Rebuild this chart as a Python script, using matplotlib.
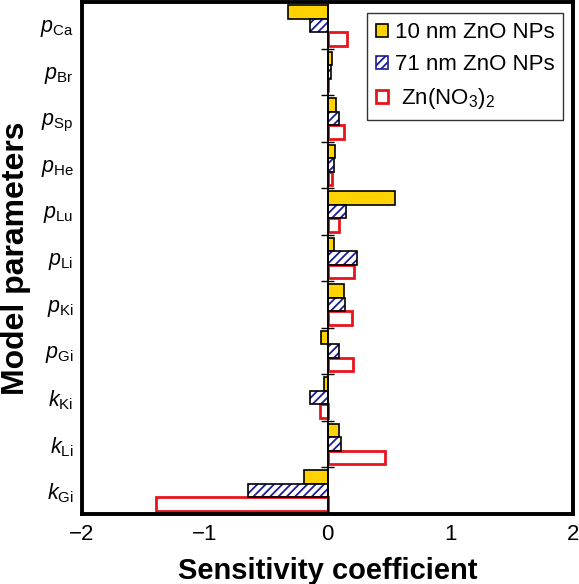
import matplotlib
matplotlib.use("Agg")
import matplotlib.pyplot as plt
import numpy as np
from matplotlib.patches import Patch

plt.rcParams['font.family'] = ['Liberation Sans', 'DejaVu Sans']
plt.rcParams['mathtext.fontset'] = 'custom'
plt.rcParams['mathtext.rm'] = 'Liberation Sans'
plt.rcParams['mathtext.it'] = 'Liberation Sans:italic'
plt.rcParams['hatch.linewidth'] = 1.3

params = [r'$p_{\mathrm{Ca}}$', r'$p_{\mathrm{Br}}$', r'$p_{\mathrm{Sp}}$', r'$p_{\mathrm{He}}$',
          r'$p_{\mathrm{Lu}}$', r'$p_{\mathrm{Li}}$', r'$p_{\mathrm{Ki}}$', r'$p_{\mathrm{Gi}}$',
          r'$k_{\mathrm{Ki}}$', r'$k_{\mathrm{Li}}$', r'$k_{\mathrm{Gi}}$']
zno10 = [-0.32, 0.035, 0.07, 0.06, 0.55, 0.05, 0.135, -0.055, -0.03, 0.095, -0.19]
zno71 = [-0.14, 0.03, 0.095, 0.05, 0.15, 0.24, 0.145, 0.095, -0.14, 0.11, -0.645]
znno3 = [0.16, 0.0, 0.135, 0.035, 0.09, 0.215, 0.2, 0.21, -0.065, 0.47, -1.40]
labels = ['10 nm ZnO NPs', '71 nm ZnO NPs', r' Zn(NO$_3$)$_2$']
xticks = [-2, -1, 0, 1, 2]
xticklabels = ['\u22122', '\u22121', '0', '1', '2']

fig = plt.figure(figsize=(5.79, 5.84), dpi=100)
L, R, T, B = 82, 573, 2, 514
ax = fig.add_axes([L/579, 1 - B/584, (R - L)/579, (B - T)/584])

y = np.arange(len(params))
h = 0.29
ax.barh(y - h, zno10, height=h, color='#FFD300', edgecolor='black', linewidth=1.2, zorder=2)
ax.barh(y, zno71, height=h, color='white', edgecolor='#1c1c9a', hatch='////', linewidth=0, zorder=2)
ax.barh(y, zno71, height=h, color='none', edgecolor='black', linewidth=1.2, zorder=3)
ax.barh(y + h, znno3, height=h, color='white', edgecolor='#E8141B', linewidth=2.0, zorder=2)

ax.axvline(0, color='black', linewidth=1.3, zorder=4)
bounds = y[:-1] + 0.5
ax.hlines(bounds, -0.05, 0.05, color='black', linewidth=1.0, zorder=4)

ax.set_xlim(-2, 2)
ax.set_ylim(len(params) - 0.5, -0.5)
ax.set_xticks(xticks)
ax.set_xticklabels(xticklabels, fontsize=16)
ax.set_yticks(y)
ax.set_yticklabels(params, fontsize=15.5)
ax.tick_params(axis='both', length=0)
ax.tick_params(axis='x', pad=7)
ax.tick_params(axis='y', pad=6)
for s in ax.spines.values():
    s.set_linewidth(2.8)

ax.set_xlabel('Sensitivity coefficient', fontsize=21, fontweight='bold', labelpad=9)
ax.set_ylabel('Model parameters', fontsize=23, fontweight='bold')
ax.yaxis.label.set_va('center')
ax.yaxis.set_label_coords((16 - L) / (R - L), 0.5)

handles = [Patch(facecolor='#FFD300', edgecolor='black', linewidth=1.2),
           Patch(facecolor='white', edgecolor='#1c1c9a', hatch='////', linewidth=1.2),
           Patch(facecolor='white', edgecolor='#E8141B', linewidth=2.0)]
leg = ax.legend(handles, labels, loc='upper right', bbox_to_anchor=(0.98, 0.978),
                fontsize=16, frameon=True, fancybox=False, edgecolor='black',
                handlelength=0.55, handleheight=0.55, handletextpad=0.3,
                labelspacing=0.5, borderpad=0.4, borderaxespad=0)
leg.get_frame().set_linewidth(1.0)

fig.savefig('out.png', dpi=100)
